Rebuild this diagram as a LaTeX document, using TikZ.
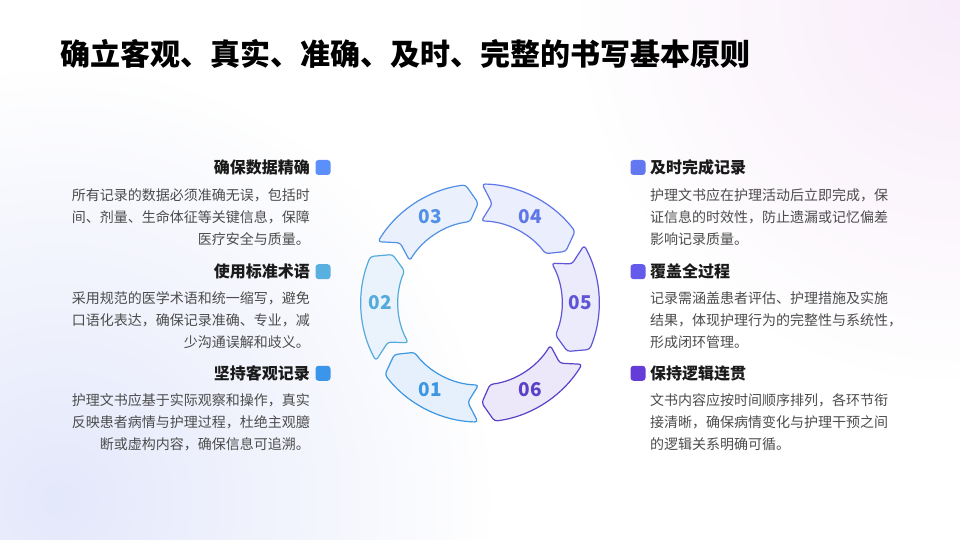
\documentclass[tikz,border=0pt]{standalone}
\usepackage{fontspec}
\setmainfont{Noto Sans CJK SC}
\usetikzlibrary{fadings}
\definecolor{s1}{HTML}{3C96E1}\definecolor{f1}{HTML}{E6F0FC}
\definecolor{s2}{HTML}{55AADC}\definecolor{f2}{HTML}{EAF3FB}
\definecolor{s3}{HTML}{5091E6}\definecolor{f3}{HTML}{EAF0FC}
\definecolor{s4}{HTML}{5F78E6}\definecolor{f4}{HTML}{EBEEFC}
\definecolor{s5}{HTML}{5F55D7}\definecolor{f5}{HTML}{ECEBFC}
\definecolor{s6}{HTML}{5A41C8}\definecolor{f6}{HTML}{ECE8FA}
\definecolor{bl1}{HTML}{5B8FF9}\definecolor{bl2}{HTML}{5AAFE1}\definecolor{bl3}{HTML}{3B96EB}
\definecolor{br1}{HTML}{6378F0}\definecolor{br2}{HTML}{645AEB}\definecolor{br3}{HTML}{643CD7}
\definecolor{headc}{HTML}{1A1A1A}\definecolor{bodyc}{HTML}{4C4C4C}
\definecolor{glowB}{HTML}{E4E8FB}\definecolor{glowP}{HTML}{F8ECFA}
\tikzfading[name=glow, inner color=transparent!0, outer color=transparent!100]
\tikzset{
  seg/.style={line width=1.2pt, rounded corners=3pt, line join=round},
  num/.style={font=\fontsize{19}{19}\selectfont\bfseries},
  sq/.style={minimum size=15pt, inner sep=0pt, rounded corners=3pt},
  head/.style={font=\fontsize{16}{16}\selectfont\bfseries, text=headc, inner sep=0pt},
  bodyL/.style={font=\fontsize{14}{22.3}\selectfont, text=bodyc, inner sep=0pt, align=right, anchor=north east},
  bodyR/.style={font=\fontsize{14}{22.3}\selectfont, text=bodyc, inner sep=0pt, align=left, anchor=north west},
  ttl/.style={font=\fontsize{30}{30}\selectfont\bfseries, text=black, inner sep=0pt, anchor=west}
}
\begin{document}
\begin{tikzpicture}[x=1pt,y=1pt]
\useasboundingbox (0,0) rectangle (960,540);
\fill[white] (0,0) rectangle (960,540);
\fill[glowB, path fading=glow] (60,40) circle (430);
\fill[glowP, path fading=glow] (960,540) circle (380);
\node[ttl] (title) at (60,486) {确立客观、真实、准确、及时、完整的书写基本原则};
\begin{scope}[shift={(480,237)}]
\foreach \c/\col/\fil/\num/\nm in {240/s1/f1/01/n1, 180/s2/f2/02/n2, 120/s3/f3/03/n3, 60/s4/f4/04/n4, 0/s5/f5/05/n5, -60/s6/f6/06/n6}{
  \draw[seg, draw=\col, fill=\fil] ({\c+29}:119) arc[start angle=\c+29, end angle=\c-23, radius=119]
    -- ({\c-29}:100) -- ({\c-23}:82) arc[start angle=\c-23, end angle=\c+29, radius=82]
    -- ({\c+23}:100) -- cycle;
  \node[num, text=\col] (\nm) at (\c:100) {\num};
}
\end{scope}
% left column
\node[sq, fill=bl1] (bl1) at (323,372.5) {};
\node[sq, fill=bl2] (bl2) at (323,268.3) {};
\node[sq, fill=bl3] (bl3) at (323,166.7) {};
\node[head, anchor=east] (hl1) at (310,372.5) {确保数据精确};
\node[head, anchor=east] (hl2) at (310,268.3) {使用标准术语};
\node[head, anchor=east] (hl3) at (310,166.7) {坚持客观记录};
\node[bodyL] (tl1) at (310,352) {所有记录的数据必须准确无误，包括时\\间、剂量、生命体征等关键信息，保障\\医疗安全与质量。};
\node[bodyL] (tl2) at (310,248.7) {采用规范的医学术语和统一缩写，避免\\口语化表达，确保记录准确、专业，减\\少沟通误解和歧义。};
\node[bodyL] (tl3) at (310,147) {护理文书应基于实际观察和操作，真实\\反映患者病情与护理过程，杜绝主观臆\\断或虚构内容，确保信息可追溯。};
% right column
\node[sq, fill=br1] (br1) at (638,372.5) {};
\node[sq, fill=br2] (br2) at (638,268.3) {};
\node[sq, fill=br3] (br3) at (638,166.7) {};
\node[head, anchor=west] (hr1) at (650,372.5) {及时完成记录};
\node[head, anchor=west] (hr2) at (650,268.3) {覆盖全过程};
\node[head, anchor=west] (hr3) at (650,166.7) {保持逻辑连贯};
\node[bodyR] (tr1) at (650,352) {护理文书应在护理活动后立即完成，保\\证信息的时效性，防止遗漏或记忆偏差\\影响记录质量。};
\node[bodyR] (tr2) at (650,248.7) {记录需涵盖患者评估、护理措施及实施\\结果，体现护理行为的完整性与系统性，\\形成闭环管理。};
\node[bodyR] (tr3) at (650,147) {文书内容应按时间顺序排列，各环节衔\\接清晰，确保病情变化与护理干预之间\\的逻辑关系明确可循。};
\end{tikzpicture}
\end{document}
